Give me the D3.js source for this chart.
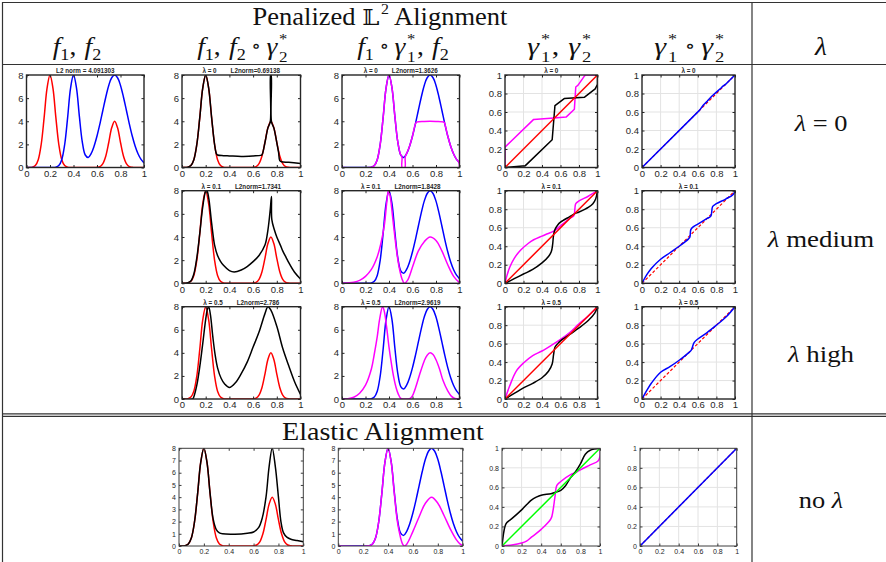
<!DOCTYPE html>
<html><head><meta charset="utf-8">
<script src="https://cdn.jsdelivr.net/npm/d3@7"></script>
<style>body{margin:0;background:#fff}svg{display:block}text{white-space:pre}</style>
</head><body>
<svg id="c" width="886" height="562"></svg>
<script>
// ---------------- DATA ----------------
const xGrid = [0,0.025,0.05,0.075,0.1,0.125,0.15,0.175,0.2,0.225,0.25,0.275,0.3,0.325,0.35,0.375,0.4,0.425,0.45,0.475,0.5,0.525,0.55,0.575,0.6,0.625,0.65,0.675,0.7,0.725,0.75,0.775,0.8,0.825,0.85,0.875,0.9,0.925,0.95,0.975,1];
const f1 = [0,0,0.03,0.17,0.68,1.99,4.31,6.86,8,6.86, 4.31,1.99,0.68,0.17,0.03,0,0,0,0,0, 0,0,0,0,0.02,0.08,0.34,1.0,2.16,3.43, 4,3.43,2.16,1.0,0.34,0.08,0.02,0,0,0, 0];
const f2 = [0,0,0,0,0,0,0,0,0,0, 0.03,0.17,0.68,1.99,4.31,6.87,8,6.91,4.42,2.2, 1.08,0.87,1.2,1.84,2.72,3.78,4.95,6.1,7.1,7.76, 8,7.76,7.1,6.1,4.95,3.78,2.72,1.84,1.17,0.70, 0.40];

// lambda = 0
const f2Warp0 = [[0,0],[0.05,0.03],[0.075,0.17],[0.1,0.68],[0.125,1.99],[0.15,4.31],[0.175,6.86],[0.2,8],[0.225,6.86],[0.25,4.31],[0.275,1.99],[0.29,1.2],[0.3,1.08],[0.35,1.02],[0.4,1.0],[0.5,0.96],[0.6,1.0],[0.665,1.05],[0.675,1.1],[0.7,2.16],[0.725,3.43],[0.745,3.97],[0.748,8],[0.752,8],[0.755,3.97],[0.775,3.43],[0.8,2.16],[0.815,1.3],[0.825,0.6],[0.84,0.5],[0.9,0.45],[1,0.35]];
const f1Warp0 = [[0,0],[0.25,0.02],[0.275,0.17],[0.3,0.68],[0.325,1.99],[0.35,4.31],[0.375,6.87],[0.4,8],[0.425,6.91],[0.45,4.42],[0.475,2.2],[0.5,1.08],[0.51,0.95],[0.512,0],[0.535,0],[0.538,0.9],[0.55,1.2],[0.575,1.84],[0.6,2.72],[0.625,3.78],[0.635,3.92],[0.7,3.98],[0.75,4.0],[0.8,3.98],[0.87,3.9],[0.875,3.78],[0.9,2.72],[0.925,1.84],[0.95,1.17],[0.975,0.7],[0.995,0.45],[1,0]];
const gamBlack0 = [[0,0],[0.22,0.02],[0.51,0.30],[0.54,0.67],[0.64,0.745],[0.86,0.76],[0.975,0.85],[1,0.9],[1,1]];
const gamMag0 = [[0,0],[0,0.22],[0.31,0.52],[0.53,0.535],[0.66,0.545],[0.75,0.63],[0.765,0.87],[0.79,0.89],[0.86,0.99],[0.87,1],[1,1]];
const gamComp0 = [[0,0],[0.62,0.62],[0.66,0.675],[0.7,0.715],[0.75,0.77],[0.8,0.815],[0.85,0.86],[0.87,0.88],[0.9,0.9],[1,1]];

// lambda = 0.1
const f2Warp1 = [[0,0],[0.05,0.05],[0.075,0.2],[0.1,0.8],[0.125,2.2],[0.15,4.3],[0.175,6.6],[0.2,7.95],[0.21,8],[0.225,7.4],[0.25,5.2],[0.275,3.3],[0.3,2.4],[0.325,1.9],[0.35,1.55],[0.4,1.1],[0.44,0.98],[0.5,1.15],[0.55,1.45],[0.6,1.87],[0.65,2.4],[0.7,3.3],[0.725,4.6],[0.745,6.4],[0.755,7.5],[0.758,5.5],[0.78,4.6],[0.8,4.0],[0.83,3.3],[0.85,2.8],[0.88,2.2],[0.9,1.8],[0.95,0.95],[1,0.37]];
const f1Warp1 = [[0,0],[0.1,0.1],[0.15,0.25],[0.2,0.6],[0.25,1.2],[0.3,2.3],[0.33,3.4],[0.36,5.0],[0.38,6.9],[0.395,8],[0.41,7.5],[0.43,5.8],[0.45,4.0],[0.47,2.4],[0.49,1.2],[0.51,0.4],[0.53,0],[0.56,0.3],[0.6,1.4],[0.65,2.8],[0.7,3.6],[0.75,4.0],[0.8,3.7],[0.85,2.8],[0.9,1.6],[0.95,0.6],[1,0.05]];
const gamBlack1 = [[0,0],[0.1,0.05],[0.2,0.1],[0.3,0.15],[0.4,0.22],[0.47,0.29],[0.5,0.34],[0.515,0.42],[0.525,0.52],[0.54,0.58],[0.57,0.63],[0.6,0.66],[0.7,0.72],[0.75,0.75],[0.8,0.77],[0.9,0.82],[0.95,0.86],[0.98,0.91],[1,1]];
const gamMag1 = [[0,0],[0.02,0.08],[0.05,0.17],[0.1,0.27],[0.17,0.36],[0.25,0.43],[0.31,0.47],[0.4,0.51],[0.46,0.535],[0.52,0.56],[0.55,0.58],[0.6,0.62],[0.7,0.7],[0.745,0.73],[0.755,0.8],[0.765,0.86],[0.8,0.89],[0.9,0.94],[1,1]];
const gamComp1 = [[0,0],[0.05,0.09],[0.1,0.16],[0.2,0.26],[0.3,0.33],[0.4,0.4],[0.5,0.48],[0.515,0.5],[0.525,0.58],[0.55,0.61],[0.6,0.64],[0.7,0.7],[0.74,0.725],[0.76,0.83],[0.8,0.86],[0.9,0.91],[0.98,0.96],[1,1]];

// lambda = 0.5
const f2Warp5 = [[0,0],[0.09,0],[0.1,0.2],[0.125,1.2],[0.15,2.8],[0.175,4.8],[0.2,6.9],[0.215,7.8],[0.225,8],[0.24,7.3],[0.26,5.4],[0.28,3.8],[0.3,2.7],[0.33,1.8],[0.36,1.3],[0.4,1.0],[0.45,1.4],[0.5,2.2],[0.55,3.2],[0.6,4.5],[0.65,5.8],[0.7,7.4],[0.725,8],[0.75,7.7],[0.8,6.3],[0.85,4.4],[0.9,2.9],[0.95,1.5],[1,0.4]];
const f1Warp5 = [[0,0],[0.05,0.02],[0.1,0.15],[0.15,0.5],[0.2,1.2],[0.25,2.6],[0.275,3.9],[0.3,5.4],[0.32,6.9],[0.345,8],[0.36,7.6],[0.38,6.2],[0.4,4.5],[0.42,3.1],[0.44,1.9],[0.46,1.0],[0.48,0.4],[0.5,0.05],[0.52,0],[0.58,0.05],[0.6,0.3],[0.63,1.1],[0.66,2.1],[0.7,3.3],[0.725,3.8],[0.75,4],[0.775,3.85],[0.8,3.4],[0.83,2.6],[0.86,1.6],[0.9,0.7],[0.93,0.25],[0.96,0.05],[1,0]];
const gamBlack5 = [[0,0],[0.1,0.06],[0.2,0.12],[0.3,0.17],[0.4,0.23],[0.47,0.3],[0.51,0.38],[0.525,0.48],[0.54,0.56],[0.57,0.6],[0.6,0.63],[0.7,0.7],[0.8,0.77],[0.9,0.85],[0.97,0.93],[1,1]];
const gamMag5 = [[0,0],[0.05,0.14],[0.12,0.3],[0.2,0.39],[0.3,0.47],[0.4,0.52],[0.5,0.58],[0.6,0.645],[0.7,0.72],[0.8,0.815],[0.9,0.9],[1,1]];
const gamComp5 = [[0,0],[0.05,0.09],[0.1,0.17],[0.2,0.29],[0.3,0.35],[0.4,0.42],[0.5,0.5],[0.53,0.53],[0.56,0.61],[0.6,0.65],[0.7,0.72],[0.8,0.8],[0.9,0.885],[1,1]];

// elastic
const f2WarpE = [[0,0],[0.05,0.03],[0.075,0.17],[0.1,0.68],[0.125,1.99],[0.15,4.31],[0.175,6.86],[0.2,8],[0.225,6.86],[0.25,4.31],[0.275,2.2],[0.3,1.35],[0.325,1.08],[0.35,1.0],[0.45,0.97],[0.55,1.05],[0.6,1.15],[0.64,1.5],[0.67,2.3],[0.7,4.0],[0.725,6.5],[0.75,8],[0.775,6.5],[0.8,4.0],[0.82,2.0],[0.84,1.1],[0.87,0.7],[0.9,0.55],[0.95,0.45],[1,0.35]];
const f1WarpE = [[0,0],[0.25,0.03],[0.275,0.17],[0.3,0.68],[0.325,1.99],[0.35,4.31],[0.375,6.87],[0.4,8],[0.425,6.86],[0.45,4.31],[0.475,2.0],[0.5,0.7],[0.515,0.2],[0.53,0],[0.55,0.15],[0.6,1.2],[0.65,2.4],[0.7,3.5],[0.75,4],[0.8,3.5],[0.85,2.5],[0.9,1.4],[0.95,0.5],[0.98,0.15],[1,0.05]];
const gamBlackE = [[0,0],[0.03,0.2],[0.05,0.24],[0.1,0.28],[0.2,0.37],[0.3,0.47],[0.35,0.5],[0.4,0.52],[0.5,0.535],[0.55,0.55],[0.6,0.57],[0.65,0.62],[0.7,0.7],[0.75,0.76],[0.8,0.84],[0.85,0.94],[0.9,0.98],[1,1]];
const gamMagE = [[0,0],[0.1,0.01],[0.2,0.03],[0.25,0.05],[0.3,0.09],[0.4,0.17],[0.5,0.28],[0.52,0.36],[0.54,0.5],[0.56,0.62],[0.6,0.66],[0.7,0.73],[0.75,0.75],[0.8,0.78],[0.9,0.83],[0.98,0.87],[1,0.92],[1,1]];
const gamCompE = [[0,0],[1,1]];
const identity = [[0,0],[1,1]];

const xTicks = [0,0.2,0.4,0.6,0.8,1];
const fTicks = [0,2,4,6,8];
const fTicksE = [0,1,2,3,4,5,6,7,8];
const gTicks = [0,0.2,0.4,0.6,0.8,1];

// ---------------- DRAW ----------------
const RED='#ff0000', BLUE='#0000ff', BLK='#000000', MAG='#ff00ff', GRN='#00ff00';
const SERIF='"Liberation Serif","Times New Roman","DejaVu Serif",serif';
const SANS='"Liberation Sans",Arial,Helvetica,sans-serif';
const svg = d3.select('#c');
const onGrid = arr => xGrid.map((x,i)=>[x,arr[i]]);

const R1={top:75,bot:167.5}, R2={top:190.7,bot:283.3}, R3={top:306.7,bot:399}, R4={top:448.3,bot:546};
const C1=[26.5,144], C2=[182,300.5], C3=[342,459.5], C4=[505,597.5], C5=[642,735];
const E2=[179,303.3], E3=[338.3,462.7], E4=[502,600], E5=[640,736.7];

function S(d,c,o={}){return Object.assign({d,c},o);}
const panels = [
 {c:C1,r:R1,ymax:8,yt:fTicks,title:['L2 norm = 4.091303'],s:[S(onGrid(f1),RED),S(onGrid(f2),BLUE)]},
 {c:C2,r:R1,ymax:8,yt:fTicks,title:['λ = 0','L2norm=0.69138'],s:[S(onGrid(f1),RED),S(f2Warp0,BLK)]},
 {c:C3,r:R1,ymax:8,yt:fTicks,title:['λ = 0','L2norm=1.3626'],s:[S(onGrid(f2),BLUE),S(f1Warp0,MAG)]},
 {c:C4,r:R1,ymax:1,yt:gTicks,grid:1,title:['λ = 0'],s:[S(gamMag0,MAG,{lin:1}),S(gamBlack0,BLK,{lin:1}),S(identity,RED)]},
 {c:C5,r:R1,ymax:1,yt:gTicks,grid:1,title:['λ = 0'],s:[S(identity,RED,{dash:1}),S(gamComp0,BLUE,{lin:1})]},
 {c:C2,r:R2,ymax:8,yt:fTicks,title:['λ = 0.1','L2norm=1.7341'],s:[S(onGrid(f1),RED),S(f2Warp1,BLK)]},
 {c:C3,r:R2,ymax:8,yt:fTicks,title:['λ = 0.1','L2norm=1.8428'],s:[S(onGrid(f2),BLUE),S(f1Warp1,MAG)]},
 {c:C4,r:R2,ymax:1,yt:gTicks,grid:1,title:['λ = 0.1'],s:[S(gamMag1,MAG),S(gamBlack1,BLK),S(identity,RED)]},
 {c:C5,r:R2,ymax:1,yt:gTicks,grid:1,title:['λ = 0.1'],s:[S(identity,RED,{dash:1}),S(gamComp1,BLUE)]},
 {c:C2,r:R3,ymax:8,yt:fTicks,title:['λ = 0.5','L2norm=2.786'],s:[S(onGrid(f1),RED),S(f2Warp5,BLK)]},
 {c:C3,r:R3,ymax:8,yt:fTicks,title:['λ = 0.5','L2norm=2.9619'],s:[S(onGrid(f2),BLUE),S(f1Warp5,MAG)]},
 {c:C4,r:R3,ymax:1,yt:gTicks,grid:1,title:['λ = 0.5'],s:[S(gamMag5,MAG),S(gamBlack5,BLK),S(identity,RED)]},
 {c:C5,r:R3,ymax:1,yt:gTicks,grid:1,title:['λ = 0.5'],s:[S(identity,RED,{dash:1}),S(gamComp5,BLUE)]},
 {c:E2,r:R4,ymax:8,yt:fTicksE,small:1,s:[S(onGrid(f1),RED),S(f2WarpE,BLK)]},
 {c:E3,r:R4,ymax:8,yt:fTicksE,small:1,s:[S(onGrid(f2),BLUE),S(f1WarpE,MAG)]},
 {c:E4,r:R4,ymax:1,yt:gTicks,grid:1,small:1,s:[S(gamMagE,MAG),S(gamBlackE,BLK),S(identity,GRN)]},
 {c:E5,r:R4,ymax:1,yt:gTicks,grid:1,small:1,s:[S(identity,RED,{dash:1}),S(gamCompE,BLUE)]},
];

const fmt = d3.format('~g');
panels.forEach((p,pi)=>{
  const g = svg.append('g');
  const x = d3.scaleLinear().domain([0,1]).range(p.c);
  const y = d3.scaleLinear().domain([0,p.ymax]).range([p.r.bot,p.r.top]);
  const fs = p.small?7:9.5, tl = 2.5;
  const boxCol = p.small?'#3c3c3c':'#262626', boxW = p.small?1:1.4;
  if(p.grid){
    g.append('g').selectAll('line').data(xTicks.slice(1,-1)).join('line')
      .attr('x1',d=>x(d)).attr('x2',d=>x(d)).attr('y1',p.r.top).attr('y2',p.r.bot)
      .attr('stroke','#e3e3e3').attr('stroke-width',1);
    g.append('g').selectAll('line').data(p.yt.slice(1,-1)).join('line')
      .attr('y1',d=>y(d)).attr('y2',d=>y(d)).attr('x1',p.c[0]).attr('x2',p.c[1])
      .attr('stroke','#e3e3e3').attr('stroke-width',1);
  }
  const cid='clip'+pi;
  g.append('clipPath').attr('id',cid).append('rect')
    .attr('x',p.c[0]).attr('y',p.r.top).attr('width',p.c[1]-p.c[0]).attr('height',p.r.bot-p.r.top);
  const lg = g.append('g').attr('clip-path',`url(#${cid})`);
  p.s.forEach(s=>{
    const line = d3.line().x(d=>x(d[0])).y(d=>y(d[1]))
      .curve(s.lin||s.d.length<3?d3.curveLinear:d3.curveCatmullRom.alpha(0.5));
    lg.append('path').attr('d',line(s.d)).attr('fill','none').attr('stroke',s.c)
      .attr('stroke-width',s.dash?1.2:1.5).attr('stroke-dasharray',s.dash?'3,2':null)
      .attr('stroke-linejoin','round');
  });
  const ax = (gen,tr)=>{const a=g.append('g').attr('transform',tr).call(gen);
    a.select('.domain').remove();
    a.selectAll('line').attr('stroke',boxCol);
    a.selectAll('text').attr('font-family',SANS).attr('font-size',fs).attr('fill','#262626');
    return a;};
  ax(d3.axisBottom(x).tickValues(xTicks).tickSize(-tl).tickPadding(p.small?3:2.5).tickFormat(fmt),`translate(0,${p.r.bot})`);
  ax(d3.axisLeft(y).tickValues(p.yt).tickSize(-tl).tickPadding(3).tickFormat(fmt),`translate(${p.c[0]},0)`);
  ax(d3.axisTop(x).tickValues(xTicks).tickSize(-tl).tickFormat(''),`translate(0,${p.r.top})`);
  ax(d3.axisRight(y).tickValues(p.yt).tickSize(-tl).tickFormat(''),`translate(${p.c[1]},0)`);
  g.append('rect').attr('x',p.c[0]).attr('y',p.r.top).attr('width',p.c[1]-p.c[0]).attr('height',p.r.bot-p.r.top)
    .attr('fill','none').attr('stroke',boxCol).attr('stroke-width',boxW);
  if(p.title){
    const t = g.append('text').attr('x',(p.c[0]+p.c[1])/2).attr('y',p.r.top-2)
      .attr('text-anchor','middle').attr('font-family',SANS).attr('font-weight','bold')
      .attr('font-size',6.3).attr('fill','#262626');
    t.append('tspan').text(p.title[0]);
    if(p.title[1]) t.append('tspan').attr('dx',14).text(p.title[1]);
  }
});

// ---------------- TABLE ----------------
const LC='#333';
function hl(y,x0,x1,w=1.2){svg.append('line').attr('x1',x0).attr('x2',x1).attr('y1',y).attr('y2',y).attr('stroke',LC).attr('stroke-width',w);}
function vl(x,y0,y1,w=1.2){svg.append('line').attr('x1',x).attr('x2',x).attr('y1',y0).attr('y2',y1).attr('stroke',LC).attr('stroke-width',w);}
hl(2.5,2,886); hl(64.5,2,886); hl(413.8,2,886); hl(416.3,2,886);
vl(2.5,2,562); vl(752,2,562);

function mathLabel(cx,base,items,fs,sx=1.1){
  const g = svg.append('g');
  let x=0, prevStart=0;
  items.forEach(it=>{
    const size = fs*(it.s||1);
    const t = g.append('text').attr('y',base+(it.dy||0)*fs).attr('font-size',size)
      .attr('font-family',it.ff||SERIF).attr('font-style',it.i?'italic':'normal')
      .attr('fill','#111').style('white-space','pre').text(it.t);
    const w = t.node().getComputedTextLength();
    if(it.st){t.attr('x',prevStart); x=Math.max(x,prevStart+w);}
    else {const s0=x+(it.k||0)*fs; t.attr('x',s0); prevStart=s0; x=s0+w;}
    x += (it.a||0)*fs;
  });
  g.attr('transform',`translate(${cx-x*sx/2},0) scale(${sx},1)`);
}
const I=(t,o={})=>Object.assign({t,i:1},o), Rm=(t,o={})=>Object.assign({t},o);
const sub=t=>({t,s:0.66,dy:0.22}), sup=t=>({t,s:0.6,dy:-0.45,k:0.06}), subSt=t=>({t,s:0.62,dy:0.3,st:1,a:0.05});
const COMP = {t:'∘',ff:'"DejaVu Serif",serif',s:0.72,dy:-0.12,k:0.2,a:0.2};
const CM = {t:',',a:0.3};

mathLabel(380,25,[Rm('Penalized '),{t:'𝕃',ff:'"DejaVu Serif","DejaVu Sans",serif',s:0.92},sup('2'),Rm(' Alignment')],25,1.06);
mathLabel(77,55,[I('f'),sub('1'),CM,I('f'),sub('2')],25);
mathLabel(243,55,[I('f'),sub('1'),CM,I('f'),sub('2'),COMP,I('γ'),sup('*'),subSt('2')],25);
mathLabel(403,55,[I('f'),sub('1'),COMP,I('γ'),sup('*'),subSt('1'),CM,I('f'),sub('2')],25);
mathLabel(560,55,[I('γ'),sup('*'),subSt('1'),CM,I('γ'),sup('*'),subSt('2')],25,1.2);
mathLabel(690,55,[I('γ'),sup('*'),subSt('1'),COMP,I('γ'),sup('*'),subSt('2')],25,1.2);
mathLabel(821,55,[I('λ')],25);
mathLabel(821,131,[I('λ'),Rm(' = 0')],24,1.1);
mathLabel(821,247,[I('λ'),Rm(' medium')],24,1.12);
mathLabel(821,362,[I('λ'),Rm(' high')],24,1.12);
mathLabel(821,508,[Rm('no '),I('λ')],24,1.1);
mathLabel(383,440,[Rm('Elastic Alignment')],26,1.08);
</script>
</body></html>
